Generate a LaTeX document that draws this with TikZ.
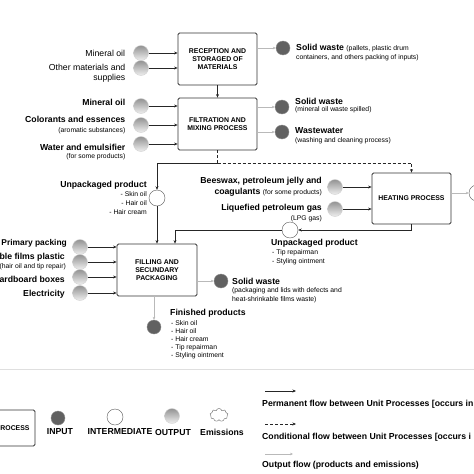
\documentclass[tikz,border=0pt]{standalone}
\usepackage{fontspec}
\setmainfont{Liberation Sans}
\usetikzlibrary{arrows.meta,positioning,shapes.symbols}
\newcommand{\lblfont}{\fontsize{8.7}{10.5}\selectfont\bfseries}
\newcommand{\notefont}{\fontsize{6.8}{8.4}\selectfont}

\begin{document}
\begin{tikzpicture}
    [x=1pt,y=-1pt,
    process/.style={rectangle,draw=black!80,line width=0.8pt,rounded corners=1.5pt,
    fill=white,align=center,inner sep=0pt,font=\fontsize{6.9}{8}\selectfont\bfseries},
    input/.style={circle,top color=gray!85,bottom color=gray!12,draw=gray!35,
    inner sep=0pt,minimum size=15pt},
    output/.style={circle,fill=black!62,draw=black!45,inner sep=0pt,minimum size=14pt},
    inter/.style={circle,fill=white,draw=black!65,inner sep=0pt,minimum size=16pt},
    flow/.style={-{Stealth[length=3.5pt,width=3pt]},line width=0.8pt,black!85},
    cond/.style={flow,dash pattern=on 3pt off 2pt},
    outflow/.style={-{Stealth[length=3pt,width=2.6pt]},line width=0.6pt,gray!55},
    lbl/.style={inner sep=0pt,font=\lblfont},
    txt/.style={inner sep=0pt,font=\fontsize{8.7}{10.5}\selectfont},
    note/.style={inner sep=0pt,font=\notefont}]
    \useasboundingbox (0,0) rectangle (474,474);
    \clip (0,0) rectangle (474,474);

    % unit processes
    \node[process,minimum width=79pt,minimum height=52pt] (reception) at (217.5,59) {RECEPTION AND\\STORAGED OF\\MATERIALS};
    \node[process,minimum width=79pt,minimum height=52pt] (filtration) at (217.5,124) {FILTRATION AND\\MIXING PROCESS};
    \node[process,minimum width=80pt,minimum height=52pt] (filling) at (157,270) {FILLING AND\\SECUNDARY\\PACKAGING};
    \node[process,minimum width=79pt,minimum height=51pt] (heating) at (411.5,198.5) {HEATING PROCESS};

    % reception and storage
    \node[input] (recmineral) at (141,53) {};
    \node[input] (recother) at (141,68) {};
    \node[txt,left=8pt of recmineral] (recmineraltxt) {Mineral oil};
    \node[txt,anchor=north east,align=right] (recothertxt) at (125.5,63.5) {Other materials and\\supplies};
    \node[output] (recwaste) at (283,48) {};
    \node[lbl,anchor=west] (recwastetxt) at (296,48) {Solid waste {\notefont\mdseries (pallets, plastic drum}};
    \node[note,anchor=west] (recwastenote) at (296,58) {containers, and others packing of inputs)};
    \draw[flow] (recmineral) -- (recmineral -| reception.west);
    \draw[flow] (recother) -- (recother -| reception.west);
    \draw[outflow] (recwaste -| reception.east) -- (recwaste);

    % filtration and mixing
    \node[input] (filmineral) at (141,106) {};
    \node[input] (filcolor) at (141,125) {};
    \node[input] (filwater) at (141,144) {};
    \node[lbl,anchor=east] (filmineraltxt) at (125.5,102) {Mineral oil};
    \node[lbl,anchor=east] (filcolortxt) at (125.5,119) {Colorants and essences};
    \node[note,anchor=east] (filcolornote) at (125.5,131) {(aromatic substances)};
    \node[lbl,anchor=east] (filwatertxt) at (125.5,147) {Water and emulsifier};
    \node[note,anchor=east] (filwaternote) at (125.5,157) {(for some products)};
    \node[output] (filwaste) at (282,107) {};
    \node[output] (filwastewater) at (282,132) {};
    \node[lbl,anchor=west] (filwastetxt) at (295,101) {Solid waste};
    \node[note,anchor=west] (filwastenote) at (295,110) {(mineral oil waste spilled)};
    \node[lbl,anchor=west] (filwwtxt) at (295,131) {Wastewater};
    \node[note,anchor=west] (filwwnote) at (295,141) {(washing and cleaning process)};
    \draw[flow] (filmineral) -- (filmineral -| filtration.west);
    \draw[flow] (filcolor) -- (filcolor -| filtration.west);
    \draw[flow] (filwater) -- (filwater -| filtration.west);
    \draw[outflow] (filwaste -| filtration.east) -- (filwaste);
    \draw[outflow] (filwastewater -| filtration.east) -- (filwastewater);
    \draw[flow] (reception) -- (filtration);

    % split after mixing
    \coordinate (split) at (217.5,163);
    \node[inter] (unpkskin) at (157,198) {};
    \node[lbl,anchor=east] (unpkskintxt) at (147,185) {Unpackaged product};
    \node[note,anchor=east] (unpkskin1) at (147,194) {- Skin oil};
    \node[note,anchor=east] (unpkskin2) at (147,203) {- Hair oil};
    \node[note,anchor=east] (unpkskin3) at (147,212) {- Hair cream};
    \draw[cond,-] (filtration) -- (split);
    \draw[cond] (split) -| (heating);
    \draw[flow] (split) -| (unpkskin);
    \draw[flow] (unpkskin) -- (filling);

    % heating
    \node[input] (heatwax) at (335,187) {};
    \node[input] (heatlpg) at (335,209) {};
    \node[lbl,anchor=east] (heatwaxtxt) at (322,181) {Beeswax, petroleum jelly and};
    \node[lbl,anchor=east] (heatcoagtxt) at (322,192) {coagulants {\notefont\mdseries (for some products)}};
    \node[lbl,anchor=east] (heatlpgtxt) at (322,208) {Liquefied petroleum gas};
    \node[note,anchor=east] (heatlpgnote) at (322,219) {(LPG gas)};
    \node[inter] (heatout) at (477,193) {};
    \node[inter] (unpktip) at (290,230) {};
    \node[lbl,anchor=west] (unpktiptxt) at (271,243) {Unpackaged product};
    \node[note,anchor=west] (unpktip1) at (272,253) {- Tip repairman};
    \node[note,anchor=west] (unpktip2) at (272,262) {- Styling ointment};
    \draw[flow] (heatwax) -- (heatwax -| heating.west);
    \draw[flow] (heatlpg) -- (heatlpg -| heating.west);
    \draw[outflow] (heatout -| heating.east) -- (heatout);
    \draw[flow] (heating) |- (unpktip);
    \draw[flow] (unpktip) -| ([xshift=18pt]filling.north);

    % filling and packaging
    \node[input] (fillprimary) at (80,247) {};
    \node[input] (fillfilms) at (80,262) {};
    \node[input] (fillboxes) at (80,277) {};
    \node[input] (fillpower) at (80,293) {};
    \node[lbl,anchor=east,font=\fontsize{8.4}{10}\selectfont\bfseries] (fillprimarytxt) at (67,243) {Primary packing};
    \node[lbl,anchor=east] (fillfilmstxt) at (65,257) {ble films plastic};
    \node[note,anchor=east] (fillfilmsnote) at (66,267) {(hair oil and tip repair)};
    \node[lbl,anchor=east] (fillboxestxt) at (65,279) {ardboard boxes};
    \node[lbl,anchor=east] (fillpowertxt) at (65,294) {Electricity};
    \node[output] (fillwaste) at (221,281) {};
    \node[lbl,anchor=west] (fillwastetxt) at (232,281) {Solid waste};
    \node[note,anchor=west] (fillwastenote1) at (232,290.5) {(packaging and lids with defects and};
    \node[note,anchor=west] (fillwastenote2) at (232,299.5) {heat-shrinkable films waste)};
    \node[output] (finished) at (154,327) {};
    \node[lbl,anchor=west] (finishedtxt) at (170,313) {Finished products};
    \node[note,anchor=west] (finished1) at (171,323) {- Skin oil};
    \node[note,anchor=west] (finished2) at (171,331) {- Hair oil};
    \node[note,anchor=west] (finished3) at (171,339) {- Hair cream};
    \node[note,anchor=west] (finished4) at (171,347.5) {- Tip repairman};
    \node[note,anchor=west] (finished5) at (171,356) {- Styling ointment};
    \draw[flow] (fillprimary) -- (fillprimary -| filling.west);
    \draw[flow] (fillfilms) -- (fillfilms -| filling.west);
    \draw[flow] (fillboxes) -- (fillboxes -| filling.west);
    \draw[flow] (fillpower) -- (fillpower -| filling.west);
    \draw[outflow] (fillwaste -| filling.east) -- (fillwaste);
    \draw[outflow] (finished |- filling.south) -- (finished);

    % legend
    \coordinate (sepleft) at (0,369);
    \coordinate (sepright) at (474,369);
    \draw[gray!25,line width=0.8pt] (sepleft) -- (sepright);
    \node[process,minimum width=50pt,minimum height=36pt] (legprocess) at (10,428) {};
    \node[process,draw=none,fill=none,anchor=west] (legprocesstxt) at (0,428) {ROCESS};
    \node[output] (leginput) at (58,418) {};
    \node[lbl] (leginputtxt) at (60,432) {INPUT};
    \node[inter] (leginter) at (115,417) {};
    \node[lbl] (legintertxt) at (120,432) {INTERMEDIATE};
    \node[input] (legoutput) at (172,416) {};
    \node[lbl] (legoutputtxt) at (173,432) {OUTPUT};
    \node[cloud,cloud puffs=9,draw=black!60,fill=white,inner sep=0pt,
    minimum width=18pt,minimum height=13pt] (legemission) at (219,415) {};
    \node[lbl] (legemissiontxt) at (222,432) {Emissions};
    \coordinate (permstart) at (265,391);
    \coordinate (permend) at (296,391);
    \coordinate (condstart) at (265,424);
    \coordinate (condend) at (296,424);
    \coordinate (outstart) at (265,454);
    \coordinate (outend) at (293,454);
    \draw[flow] (permstart) -- (permend);
    \draw[cond] (condstart) -- (condend);
    \draw[outflow] (outstart) -- (outend);
    \node[lbl,anchor=west] (permtxt) at (262,404) {Permanent flow between Unit Processes [occurs in};
    \node[lbl,anchor=west] (condtxt) at (262,437) {Conditional flow between Unit Processes [occurs i};
    \node[lbl,anchor=west] (outtxt) at (262,465) {Output flow (products and emissions)};
\end{tikzpicture}
\end{document}
